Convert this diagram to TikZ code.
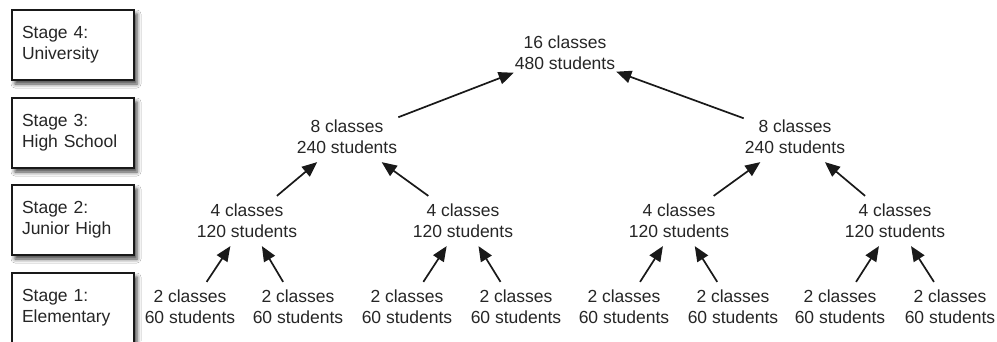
\documentclass[tikz,border=0pt]{standalone}
\usepackage{fontspec}
\setmainfont{Liberation Sans}
\usetikzlibrary{arrows.meta,shadows.blur}
\begin{document}
\begin{tikzpicture}[x=1pt,y=-1pt,
  tn/.style={font=\fontsize{17.5}{21}\selectfont, text=black!85, align=center, inner xsep=1pt, inner ysep=8pt},
  stagebox/.style={draw=black!90, line width=1.7pt, fill=white, minimum height=70pt, text width=102pt, inner xsep=10pt, align=left, text=black!85, font=\fontsize{17.5}{21}\selectfont, blur shadow={shadow xshift=3pt, shadow yshift=-4pt, shadow blur radius=4pt, shadow opacity=75}},
  arr/.style={line width=1.7pt, draw=black!90, -{Triangle[length=15pt,width=12.5pt]}}]
\useasboundingbox (0,0) rectangle (997,341);
\fill[white] (0,0) rectangle (997,341);
% stage boxes
\node[stagebox] (s4) at (73,45) {Stage 4:\\University};
\node[stagebox] (s3) at (73,133) {Stage 3:\\High School};
\node[stagebox] (s2) at (73,220) {Stage 2:\\Junior High};
\node[stagebox] (s1) at (73,308) {Stage 1:\\Elementary};
% tree
\node[tn] (u) at (565,53) {16 classes\\480 students};
\node[tn] (h1) at (347,137) {8 classes\\240 students};
\node[tn] (h2) at (795,137) {8 classes\\240 students};
\node[tn] (j1) at (247,221) {4 classes\\120 students};
\node[tn] (j2) at (463,221) {4 classes\\120 students};
\node[tn] (j3) at (679,221) {4 classes\\120 students};
\node[tn] (j4) at (895,221) {4 classes\\120 students};
\node[tn] (e1) at (190,307) {2 classes\\60 students};
\node[tn] (e2) at (298,307) {2 classes\\60 students};
\node[tn] (e3) at (407,307) {2 classes\\60 students};
\node[tn] (e4) at (516,307) {2 classes\\60 students};
\node[tn] (e5) at (624,307) {2 classes\\60 students};
\node[tn] (e6) at (733,307) {2 classes\\60 students};
\node[tn] (e7) at (840,307) {2 classes\\60 students};
\node[tn] (e8) at (950,307) {2 classes\\60 students};
% arrows
\draw[arr] (h1) -- (u);
\draw[arr] (h2) -- (u);
\draw[arr] (j1) -- (h1);
\draw[arr] (j2) -- (h1);
\draw[arr] (j3) -- (h2);
\draw[arr] (j4) -- (h2);
\draw[arr] (e1) -- (j1);
\draw[arr] (e2) -- (j1);
\draw[arr] (e3) -- (j2);
\draw[arr] (e4) -- (j2);
\draw[arr] (e5) -- (j3);
\draw[arr] (e6) -- (j3);
\draw[arr] (e7) -- (j4);
\draw[arr] (e8) -- (j4);
\end{tikzpicture}
\end{document}
